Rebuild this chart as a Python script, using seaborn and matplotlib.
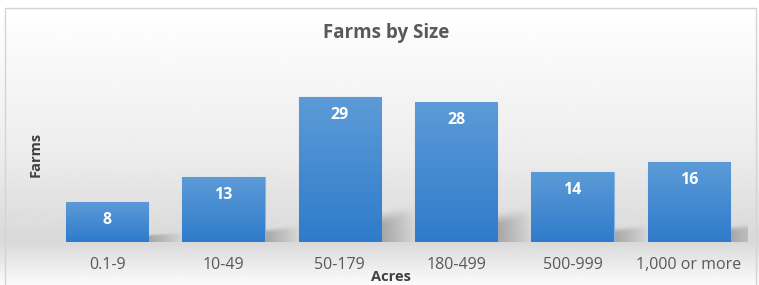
import numpy as np
import pandas as pd
import matplotlib
matplotlib.use("Agg")
import matplotlib.pyplot as plt
import seaborn as sns
from matplotlib.patches import Rectangle
from matplotlib.colors import LinearSegmentedColormap

categories = ["0.1-9", "10-49", "50-179", "180-499", "500-999", "1,000 or more"]
farms = [8, 13, 29, 28, 14, 16]
title = "Farms by Size"
xlabel = "Acres"
ylabel = "Farms"

sns.set_theme(style="white")
plt.rcParams['font.family'] = ['Open Sans', 'DejaVu Sans']

W, H = 759, 285
fig = plt.figure(figsize=(W / 100, H / 100), dpi=100)

# background gradient
bg = fig.add_axes([0, 0, 1, 1], zorder=0)
bg.set_axis_off()
ys = np.array([0, 8, 60, 150, 242, 285]) / H
vals = np.array([1.0, 1.0, 0.975, 0.93, 0.85, 0.985])
yy = np.linspace(0, 1, 300)
col = np.interp(yy, ys, vals)
img = np.repeat(col[:, None], 2, axis=1)
bg.imshow(img, cmap="gray", vmin=0, vmax=1, aspect="auto", extent=[0, 1, 1, 0])
bg.set_xlim(0, 1); bg.set_ylim(1, 0)
bg.add_patch(Rectangle((5 / W, 8 / H), 751 / W, 290 / H, fill=False,
                       edgecolor="#d4d4d4", linewidth=1.0))

ax = fig.add_axes([49 / W, 43 / H, 698 / W, 175 / H], zorder=1)
ax.patch.set_alpha(0)
df = pd.DataFrame({"Acres": categories, "Farms": farms})
sns.barplot(data=df, x="Acres", y="Farms", ax=ax, color="#4a8fd4",
            width=0.705, saturation=1, edgecolor="#86b5e3", linewidth=0.8, zorder=3)

cmap = LinearSegmentedColormap.from_list("barg", ["#2f7bcb", "#5c9bd7"])
grad = np.linspace(0, 1, 100)[:, None]

# soft shadow image (alpha field)
nu, nv = 80, 80
u = np.linspace(0, 1, nu)[None, :]
v = np.linspace(0, 1, nv)[:, None]
top = 0.72 + 0.2 * u
edge = np.clip((top - v) / 0.35, 0, 1)
edge = edge * edge * (3 - 2 * edge)
alpha = 0.5 * (1 - u) ** 0.9 * edge
shadow_rgba = np.zeros((nv, nu, 4))
shadow_rgba[..., :3] = 0.42
shadow_rgba[..., 3] = alpha

for p in ax.patches:
    x0, y0 = p.get_x(), p.get_y()
    w, h = p.get_width(), p.get_height()
    im = ax.imshow(grad, cmap=cmap, aspect="auto", origin="lower",
                   extent=[x0, x0 + w, y0, y0 + h], zorder=3.5)
    im.set_clip_path(p)
    x1 = x0 + w
    ax.imshow(shadow_rgba, aspect="auto", origin="lower",
              extent=[x1 - 0.02, x1 + 0.3, 0, 0.3 * h], zorder=2)
ax.set_xlim(-0.5, len(categories) - 0.5)
ax.set_ylim(0, 35)

ax.bar_label(ax.containers[0], labels=[str(v) for v in farms], padding=-18.5,
             color="white", fontsize=11.5, fontweight="bold", zorder=5)

for s in ax.spines.values():
    s.set_visible(False)
ax.set_yticks([])
ax.set_xlabel("")
ax.set_ylabel("")
ax.tick_params(axis="x", length=0, pad=11, labelsize=11.5, labelcolor="#595959")

fig.text(386 / W, 1 - 33 / H, title, ha="center", va="center", fontsize=13.5,
         fontweight="bold", color="#595959")
fig.text(391 / W, 1 - 277 / H, xlabel, ha="center", va="center", fontsize=10.5,
         fontweight="bold", color="#404040")
fig.text(36 / W, 1 - 154 / H, ylabel, ha="center", va="center", fontsize=10.5,
         fontweight="bold", color="#404040", rotation=90)

fig.savefig("out.png", dpi=100)
